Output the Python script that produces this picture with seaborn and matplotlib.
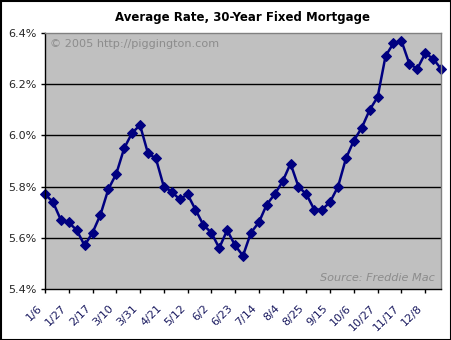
import matplotlib
matplotlib.use("Agg")
import matplotlib.pyplot as plt
import matplotlib.transforms as mtransforms
import seaborn as sns
import pandas as pd
from matplotlib.patches import Rectangle

# Weekly 30-year fixed mortgage rate (%), 2005, Freddie Mac
rates = [5.77, 5.74, 5.67, 5.66, 5.63, 5.57, 5.62, 5.69, 5.79, 5.85,
         5.95, 6.01, 6.04, 5.93, 5.91, 5.80, 5.78, 5.75, 5.77, 5.71,
         5.65, 5.62, 5.56, 5.63, 5.57, 5.53, 5.62, 5.66, 5.73, 5.77,
         5.82, 5.89, 5.80, 5.77, 5.71, 5.71, 5.74, 5.80, 5.91, 5.98,
         6.03, 6.10, 6.15, 6.31, 6.36, 6.37, 6.28, 6.26, 6.32, 6.30,
         6.26]
tick_labels = ["1/6", "1/27", "2/17", "3/10", "3/31", "4/21", "5/12", "6/2",
               "6/23", "7/14", "8/4", "8/25", "9/15", "10/6", "10/27",
               "11/17", "12/8"]
y_ticks = [5.4, 5.6, 5.8, 6.0, 6.2, 6.4]
title = "Average Rate, 30-Year Fixed Mortgage"

df = pd.DataFrame({"week": list(range(len(rates))), "rate": rates})

sns.set_style("white")
plt.rcParams["font.family"] = ["DejaVu Sans"]

fig = plt.figure(figsize=(4.52, 3.40), dpi=100)
ax = fig.add_axes([45 / 452, 1 - 289 / 340, 396 / 452, 256 / 340])
ax.set_facecolor("#C0C0C0")

sns.lineplot(data=df, x="week", y="rate", ax=ax, color="#000080",
             linewidth=1.8, marker="D", markersize=4.8,
             markeredgecolor="#000080", markerfacecolor="#000080")
for l in ax.lines:
    l.set_clip_on(False)

ax.set_xlim(0, len(rates) - 1)
ax.set_ylim(5.4, 6.4)
ax.set_yticks(y_ticks)
ax.set_yticklabels([f"{v:.1f}%" for v in y_ticks], fontsize=8)
ax.set_xticks(list(range(0, 3 * len(tick_labels), 3)))
ax.set_xlabel("")
ax.set_ylabel("")

for v in y_ticks[1:-1]:
    ax.axhline(v, color="black", linewidth=1, zorder=1)

ax.tick_params(axis="both", direction="out", length=3, width=1,
               color="black", pad=3, left=True, bottom=True)

ax.set_xticklabels(tick_labels, fontsize=8, rotation=45, ha="right",
                   va="center", rotation_mode="anchor", color="#1a1a60")
offset = mtransforms.ScaledTranslation(-4 / 100, -9 / 100, fig.dpi_scale_trans)
for lbl in ax.get_xticklabels():
    lbl.set_transform(lbl.get_transform() + offset)

for side in ["top", "right"]:
    ax.spines[side].set_color("#808080")
    ax.spines[side].set_linewidth(1)
for side in ["left", "bottom"]:
    ax.spines[side].set_color("black")
    ax.spines[side].set_linewidth(1)

ax.text(0.012, 0.975, "\u00a9 2005 http://piggington.com", transform=ax.transAxes,
        fontsize=8.1, color="#8c8c8c", ha="left", va="top")
ax.text(0.985, 0.025, "Source: Freddie Mac", transform=ax.transAxes,
        fontsize=8.1, color="#8c8c8c", ha="right", va="bottom", style="italic")

fig.text(243 / 452, 1 - 17 / 340, title, ha="center", va="center",
         fontsize=8.5, fontweight="bold", color="black")

fig.patches.append(Rectangle((0.5 / 452, 0.5 / 340), 451 / 452, 339 / 340,
                             transform=fig.transFigure, fill=False,
                             edgecolor="black", linewidth=1.5))

fig.savefig("out.png", dpi=100)
